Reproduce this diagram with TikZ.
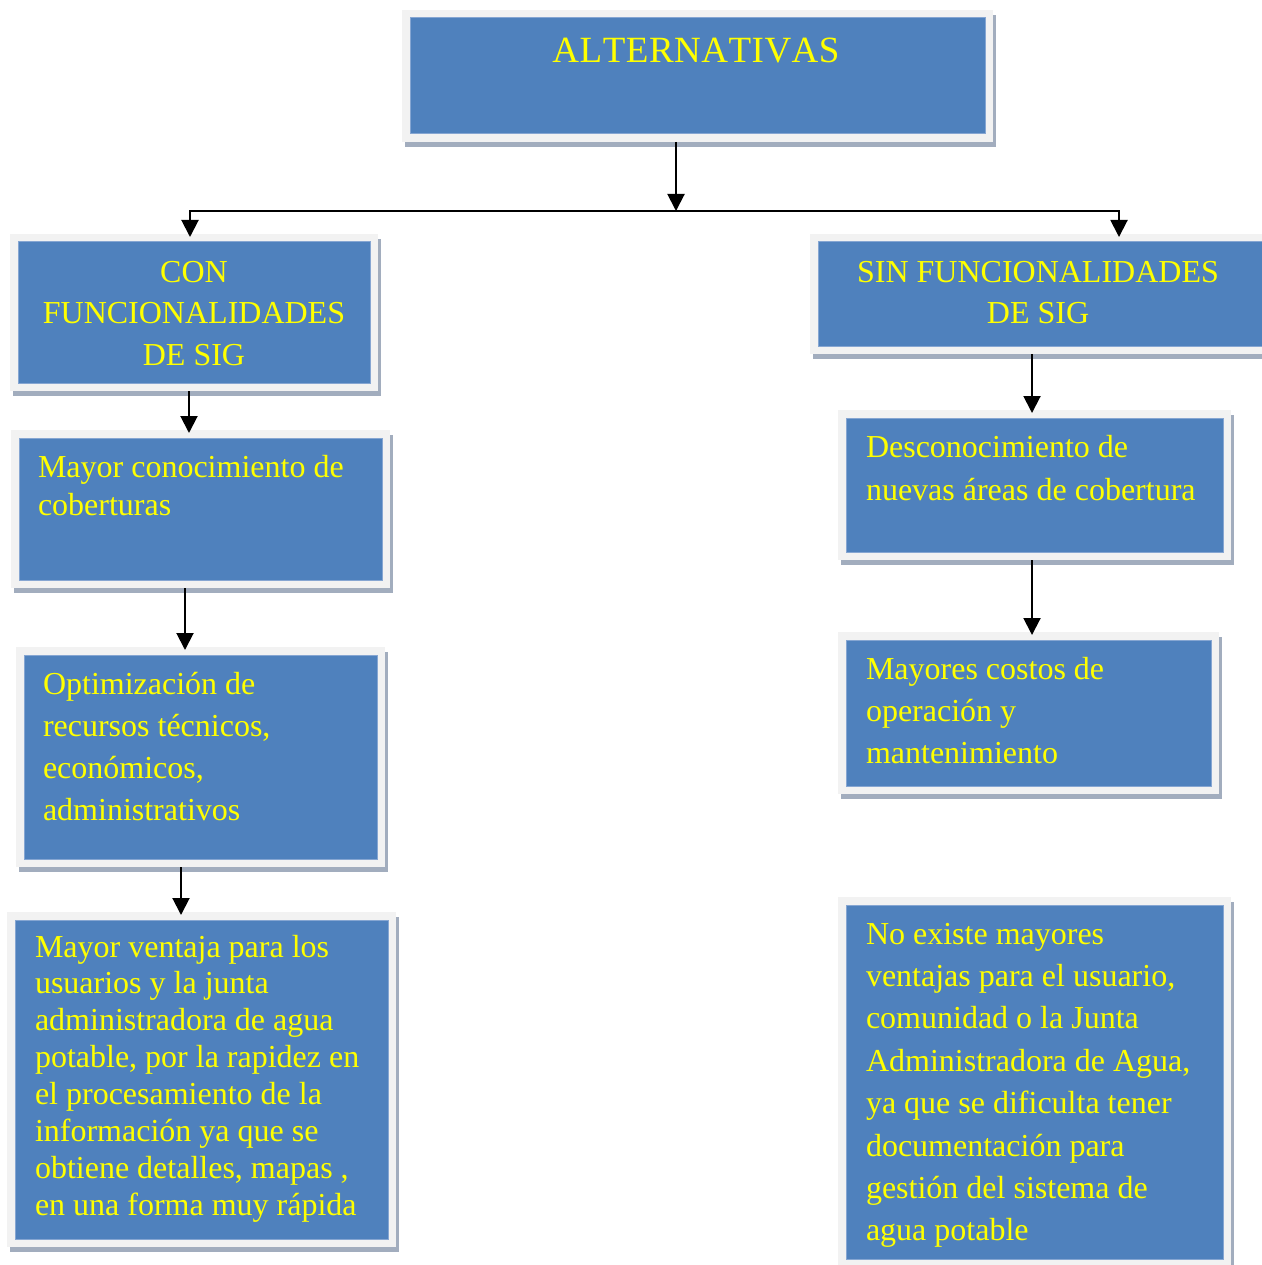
\documentclass[tikz,border=0pt]{standalone}
\usepackage{fontspec}
\setmainfont{Liberation Serif}
\usetikzlibrary{arrows.meta,shadows}
\definecolor{boxblue}{HTML}{4F81BD}
\definecolor{framegray}{HTML}{F2F2F2}
\definecolor{shadowc}{HTML}{A2ADBE}
\definecolor{edgeblue}{HTML}{86A6D2}
\definecolor{txtyellow}{HTML}{FFFF00}
\begin{document}
\begin{tikzpicture}[x=1pt,y=-1pt,
  box/.style={anchor=north west, inner sep=0pt, outer sep=0pt, fill=framegray,
    general shadow={fill=shadowc, shadow xshift=3pt, shadow yshift=-5pt},
    path picture={\fill[boxblue, draw=edgeblue, line width=1pt]
      ([shift={(8pt,8pt)}]path picture bounding box.south west) rectangle
      ([shift={(-8pt,-8pt)}]path picture bounding box.north east);}},
  txt/.style={inner sep=0pt, outer sep=0pt, text=txtyellow, align=left},
  ctxt/.style={inner sep=0pt, outer sep=0pt, text=txtyellow, align=center, anchor=north},
  arr/.style={draw=black, line width=2pt, -{Triangle[length=17pt,width=17pt]}, shorten >=-3pt}]
\fill[white] (0,0) rectangle (1261,1265);
\useasboundingbox (0,0) rectangle (1261,1265);

% boxes
\node[box, minimum width=591pt, minimum height=132pt] (b1) at (402,10) {};
\node[box, minimum width=368pt, minimum height=157pt] (b2) at (10,234) {};
\node[box, minimum width=465pt, minimum height=120pt] (b3) at (810,234) {};
\node[box, minimum width=379pt, minimum height=158pt] (b4) at (11,430) {};
\node[box, minimum width=369pt, minimum height=220pt] (b5) at (16,647) {};
\node[box, minimum width=389pt, minimum height=335pt] (b6) at (7,912) {};
\node[box, minimum width=393pt, minimum height=150pt] (b7) at (838,410) {};
\node[box, minimum width=381pt, minimum height=162pt] (b8) at (838,632) {};
\node[box, minimum width=393pt, minimum height=370pt] (b9) at (838,897) {};

% texts
\node[ctxt, font=\fontsize{37}{42}\selectfont] (t1) at (696,35) {\rule{0pt}{28pt}A\kern0.5ptL\kern0.5ptT\kern0.5ptE\kern0.5ptR\kern0.5ptN\kern0.5ptA\kern0.5ptT\kern0.5ptI\kern0.5ptV\kern0.5ptA\kern0.5ptS};
\node[ctxt, font=\fontsize{32}{41.5}\selectfont] (t2) at (194,254) {\rule{0pt}{28pt}CON\\FUNCIONALIDADES\\DE SIG};
\node[ctxt, font=\fontsize{32}{41.5}\selectfont] (t3) at (1038,254) {\rule{0pt}{28pt}SIN FUNCIONALIDADES\\DE SIG};
\node[txt, anchor=north west, font=\fontsize{32}{38}\selectfont] (t4) at (38,449) {\rule{0pt}{28pt}Mayor conocimiento de\\coberturas};
\node[txt, anchor=north west, font=\fontsize{32}{42}\selectfont] (t5) at (43,666) {\rule{0pt}{28pt}Optimización de\\recursos técnicos,\\económicos,\\administrativos};
\node[txt, anchor=north west, font=\fontsize{32}{36.86}\selectfont] (t6) at (35,929) {\rule{0pt}{28pt}Mayor ventaja para los\\usuarios y la junta\\administradora de agua\\potable, por la rapidez en\\el procesamiento de la\\información ya que se\\obtiene detalles, mapas ,\\en una forma muy rápida};
\node[txt, anchor=north west, font=\fontsize{32}{43}\selectfont] (t7) at (866,429) {\rule{0pt}{28pt}Desconocimiento de\\nuevas áreas de cobertura};
\node[txt, anchor=north west, font=\fontsize{32}{42}\selectfont] (t8) at (866,651) {\rule{0pt}{28pt}Mayores costos de\\operación y\\mantenimiento};
\node[txt, anchor=north west, font=\fontsize{32}{42.4}\selectfont] (t9) at (866,916) {\rule{0pt}{28pt}No existe mayores\\ventajas para el usuario,\\comunidad o la Junta\\Administradora de Agua,\\ya que se dificulta tener\\documentación para\\gestión del sistema de\\agua potable};

% connector positions
\coordinate (hbar) at (676,211);
\coordinate (xL) at (190,0);
\coordinate (xR) at (1119,0);
\coordinate (x24) at (189,0);
\coordinate (x45) at (185,0);
\coordinate (x56) at (181,0);
\coordinate (xr) at (1032,0);

\draw[arr, shorten >=0pt] (b1.south -| hbar) -- (hbar);
\draw[arr] (hbar) -| (b2.north -| xL);
\draw[arr] (hbar) -| (b3.north -| xR);
\draw[arr] (b2.south -| x24) -- (b4.north -| x24);
\draw[arr] (b4.south -| x45) -- (b5.north -| x45);
\draw[arr] (b5.south -| x56) -- (b6.north -| x56);
\draw[arr] (b3.south -| xr) -- (b7.north -| xr);
\draw[arr] (b7.south -| xr) -- (b8.north -| xr);
\end{tikzpicture}
\end{document}
